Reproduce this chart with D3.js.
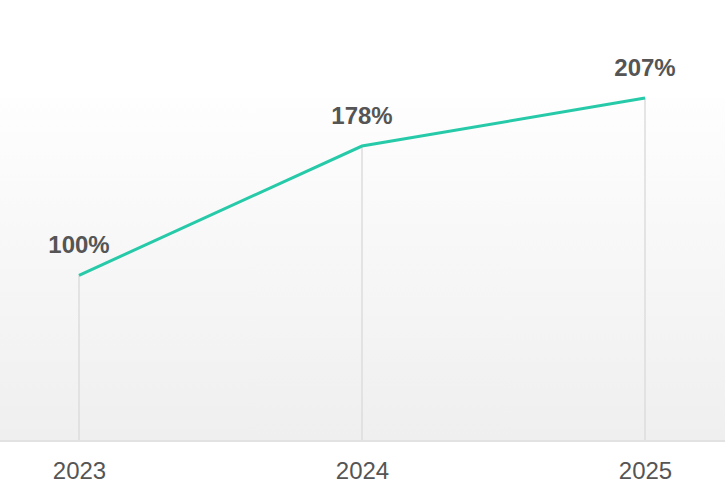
<!DOCTYPE html>
<html>
<head>
<meta charset="utf-8">
<script src="https://cdn.jsdelivr.net/npm/d3@7"></script>
<style>
  body { margin: 0; background: #fff; }
  svg { display: block; font-family: "Liberation Sans", Arial, sans-serif; }
</style>
</head>
<body>
<svg width="725" height="500"></svg>
<script>
var years = ["2023", "2024", "2025"];
var values = [100, 178, 207];
var labels = ["100%", "178%", "207%"];

var width = 725, height = 500;
var baseY = 441;

var svg = d3.select("svg");

var x = d3.scalePoint().domain(years).range([79, 645]);
var y = d3.scaleLinear().domain([0, d3.max(values)]).range([baseY, 98]);

var data = years.map(function(d, i) { return {year: d, value: values[i], label: labels[i]}; });

// background gradient
var grad = svg.append("defs").append("linearGradient")
    .attr("id", "bg").attr("x1", 0).attr("y1", 0).attr("x2", 0).attr("y2", 1);
grad.append("stop").attr("offset", "0%").attr("stop-color", "#fefefe");
grad.append("stop").attr("offset", "100%").attr("stop-color", "#efefef");

svg.append("rect")
    .attr("x", 0).attr("y", y(d3.max(values)))
    .attr("width", width).attr("height", baseY - y(d3.max(values)))
    .attr("fill", "url(#bg)");

// drop lines
svg.selectAll(".drop")
  .data(data)
  .enter().append("line")
    .attr("class", "drop")
    .attr("x1", function(d) { return x(d.year); })
    .attr("x2", function(d) { return x(d.year); })
    .attr("y1", function(d) { return y(d.value); })
    .attr("y2", baseY)
    .attr("stroke", "#dcdcdc")
    .attr("stroke-width", 1.5);

// baseline
svg.append("line")
    .attr("x1", 0).attr("x2", width)
    .attr("y1", baseY).attr("y2", baseY)
    .attr("stroke", "#e2e2e2")
    .attr("stroke-width", 2);

// x axis labels
var xAxis = svg.append("g")
    .attr("transform", "translate(0," + baseY + ")")
    .call(d3.axisBottom(x).tickSize(0).tickPadding(38));
xAxis.select(".domain").remove();
xAxis.selectAll("text")
    .attr("dy", 0)
    .attr("fill", "#555")
    .style("font-size", "24px")
    .style("font-family", "'Liberation Sans', Arial, sans-serif");

// line
var line = d3.line()
    .x(function(d) { return x(d.year); })
    .y(function(d) { return y(d.value); });

svg.append("path")
    .datum(data)
    .attr("d", line)
    .attr("fill", "none")
    .attr("stroke", "#26caa9")
    .attr("stroke-width", 3);

// value labels
svg.selectAll(".val")
  .data(data)
  .enter().append("text")
    .attr("class", "val")
    .attr("x", function(d) { return x(d.year); })
    .attr("y", function(d) { return y(d.value) - 22; })
    .attr("text-anchor", "middle")
    .attr("fill", "#555")
    .style("font-size", "24px")
    .style("font-weight", "bold")
    .text(function(d) { return d.label; });
</script>
</body>
</html>
